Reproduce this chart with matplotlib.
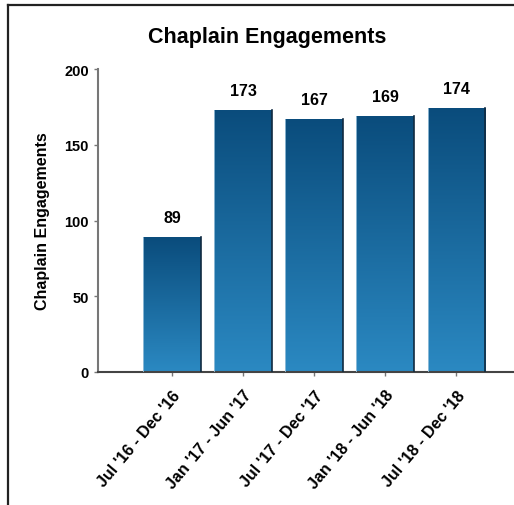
import matplotlib
matplotlib.use("Agg")
import matplotlib.pyplot as plt
import numpy as np
from matplotlib.colors import LinearSegmentedColormap
from matplotlib.lines import Line2D

categories = ["Jul '16 - Dec '16", "Jan '17 - Jun '17", "Jul '17 - Dec '17",
              "Jan '18 - Jun '18", "Jul '18 - Dec '18"]
values = [89, 173, 167, 169, 174]
title = "Chaplain Engagements"
ylabel = "Chaplain Engagements"
yticks = [0, 50, 100, 150, 200]

plt.rcParams['font.family'] = ['Liberation Sans', 'DejaVu Sans']

W, H = 514, 506
fig = plt.figure(figsize=(W / 100, H / 100), dpi=100)

# frame lines (left and top)
fig.add_artist(Line2D([7.5 / W, 7.5 / W], [0, 1 - 5.5 / H], color='#222222', lw=1.6,
                      transform=fig.transFigure))
fig.add_artist(Line2D([7.5 / W, 1], [1 - 5.5 / H, 1 - 5.5 / H], color='#222222', lw=1.6,
                      transform=fig.transFigure))

left, right = 98 / W, 1.0
bottom, top = 1 - 373 / H, 1 - 70 / H
ax = fig.add_axes([left, bottom, right - left, top - bottom])

x = np.arange(len(categories))
width = 0.81
bars = ax.bar(x, values, width=width, color='none', edgecolor='none', zorder=2)

cmap = LinearSegmentedColormap.from_list('g', ['#2b89c2', '#0a4c7c'])
grad = np.linspace(0, 1, 256).reshape(-1, 1)
for b in bars:
    x0, y0 = b.get_x(), b.get_y()
    w, h = b.get_width(), b.get_height()
    im = ax.imshow(grad, extent=[x0, x0 + w, y0, y0 + h], origin='lower',
                   cmap=cmap, aspect='auto', zorder=2)
    im.set_clip_path(b)
    ax.plot([x0 + w, x0 + w], [y0, y0 + h], color='#102a40', lw=1.2, zorder=3)
    ax.plot([x0, x0], [y0, y0 + h], color='#9cc3dc', lw=0.6, zorder=3)

for xi, v in zip(x, values):
    ax.text(xi, v + 8, str(v), ha='center', va='bottom', fontsize=11.5,
            fontweight='bold', color='black')

ax.set_xlim(-1.04, 4.81)
ax.set_ylim(0, 200)
ax.set_yticks(yticks)
ax.set_yticklabels([str(t) for t in yticks], fontsize=10.5, fontweight='bold')
ax.set_xticks(list(x))
ax.set_xticklabels(categories, rotation=50, ha='right', rotation_mode='anchor',
                   fontsize=11.5, fontweight='bold')
ax.tick_params(axis='both', length=3, color='#777777', width=1)
ax.tick_params(axis='x', pad=8)

for s in ['top', 'right']:
    ax.spines[s].set_visible(False)
ax.spines['left'].set_color('#777777')
ax.spines['bottom'].set_color('#444444')
ax.spines['left'].set_linewidth(1.5)
ax.spines['bottom'].set_linewidth(1.5)

ax.set_ylabel(ylabel, fontsize=11.5, fontweight='bold', labelpad=10)
fig.text(267 / W, 1 - 37 / H, title, ha='center', va='center', fontsize=15.5,
         fontweight='bold')

fig.savefig('out.png', dpi=100, facecolor='white')
